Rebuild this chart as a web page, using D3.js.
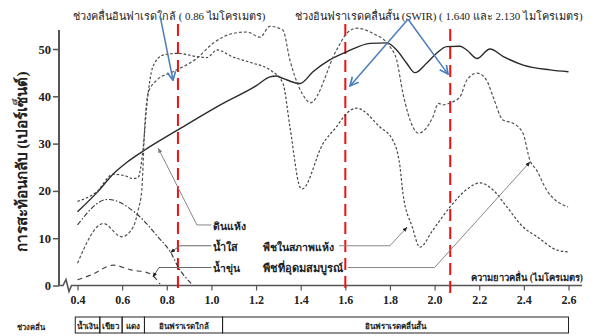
<!DOCTYPE html>
<html>
<head>
<meta charset="utf-8">
<script src="https://cdn.jsdelivr.net/npm/d3@7"></script>
<style>
  body { margin: 0; background: #fff; }
  svg { display: block; }
  text { font-family: "Liberation Serif", "DejaVu Serif", serif; fill: #222; }
  .tick text { font-weight: bold; }
</style>
</head>
<body>
<svg width="597" height="336"></svg>
<script>
// ---- data (wavelength in micrometres, reflectance in %) ----
var xTicks = [0.4, 0.6, 0.8, 1.0, 1.2, 1.4, 1.6, 1.8, 2.0, 2.2, 2.4, 2.6];
var yTicks = [0, 10, 20, 30, 40, 50];

var drySoil = [[0.40,15.6],[0.49,19.8],[0.56,23.6],[0.62,26.0],[0.70,28.6],[0.85,32.9],[1.04,38.2],
  [1.20,42.2],[1.262,44.1],[1.29,44.3],[1.32,43.8],[1.397,42.7],[1.455,45.2],[1.53,47.7],[1.606,49.4],
  [1.711,51.2],[1.786,51.3],[1.83,49.8],[1.875,47],[1.912,45],[1.964,47],[2.009,49.1],[2.054,50.5],
  [2.114,50.6],[2.144,49.8],[2.19,48],[2.248,50],[2.308,48.4],[2.397,46.6],[2.517,45.6],[2.60,45.2]];

var dryVeg = [[0.40,17.8],[0.486,19.8],[0.559,23.5],[0.613,23.2],[0.649,22.6],[0.671,22.8],[0.694,29],
  [0.71,37.8],[0.738,46.3],[0.783,48.7],[0.85,49.1],[0.935,48.4],[0.98,48.2],[1.025,49.8],[1.097,48.3],
  [1.186,47],[1.262,45.6],[1.32,42.8],[1.352,33.5],[1.397,20.8],[1.406,20.4],[1.50,30],[1.561,33.6],
  [1.606,36.4],[1.651,37.5],[1.755,33.5],[1.813,30.7],[1.845,25.1],[1.858,19.5],[1.90,12.4],[1.934,8.1],
  [1.992,11.7],[2.069,16.6],[2.158,20.8],[2.203,21.7],[2.262,20.2],[2.324,16.6],[2.396,12.4],[2.459,10.3],
  [2.548,7.5],[2.598,7.1]];

var healthyVeg = [[0.40,4.7],[0.516,13.1],[0.598,10.3],[0.65,12.4],[0.672,16],[0.688,20.2],[0.702,34.3],
  [0.716,40.6],[0.755,43.4],[0.828,45.2],[0.934,48],[1.007,51.2],[1.097,53.3],[1.159,53.6],[1.218,52.5],
  [1.262,54.8],[1.32,54],[1.352,47.6],[1.427,39.2],[1.442,38.6],[1.561,49.8],[1.606,53.3],[1.651,54.4],
  [1.724,53.3],[1.80,50.5],[1.83,47.7],[1.858,40.7],[1.903,33.5],[1.927,32.2],[1.993,35.7],[2.017,38.5],
  [2.038,38.2],[2.069,38.6],[2.114,39.9],[2.144,43.4],[2.19,44.9],[2.233,43.4],[2.262,39.9],[2.306,35],
  [2.351,34.3],[2.396,32.2],[2.427,26.5],[2.457,24.4],[2.502,20.2],[2.598,16.6]];

var clearWater = [[0.40,12.8],[0.535,18.2],[0.671,14.9],[0.76,10.3],[0.82,6.8],[0.85,4],[0.91,0.4]];
var turbidWater = [[0.40,1.2],[0.46,2.2],[0.56,4.3],[0.64,3.3],[0.72,2.6],[0.75,1.5],[0.77,0.3]];

var redLines = [0.85, 1.60, 2.07];

var bandNames = ["น้ำเงิน", "เขียว", "แดง", "อินฟราเรดใกล้", "อินฟราเรดคลื่นสั้น"];
var bandEdges = [0.39, 0.5, 0.6, 0.7, 1.05, 2.6];

// ---- layout ----
var svg = d3.select("svg");
var x = d3.scaleLinear().domain([0.4, 2.6]).range([77.5, 568.5]);
var y = d3.scaleLinear().domain([0, 54]).range([285.5, 30.1]);

// shrink/grow a text so it spans the given pixel width
function fit(sel, w) {
  sel.each(function() {
    var len = this.getComputedTextLength();
    var fs = parseFloat(d3.select(this).style("font-size"));
    if (len > 0) d3.select(this).style("font-size", (fs * w / len) + "px");
  });
}

var defs = svg.append("defs");
defs.append("marker").attr("id", "blueHead")
  .attr("viewBox", "0 0 10 10").attr("refX", 9).attr("refY", 5)
  .attr("markerWidth", 7).attr("markerHeight", 7).attr("orient", "auto")
  .append("path").attr("d", "M1,1 L9,5 L1,9").attr("fill", "none")
  .attr("stroke", "#4a7ebb").attr("stroke-width", 1.6);
defs.append("marker").attr("id", "darkHead")
  .attr("viewBox", "0 0 10 10").attr("refX", 9).attr("refY", 5)
  .attr("markerWidth", 5).attr("markerHeight", 5).attr("orient", "auto")
  .append("path").attr("d", "M0,1 L10,5 L0,9 Z").attr("fill", "#222");
defs.append("marker").attr("id", "grayHead")
  .attr("viewBox", "0 0 10 10").attr("refX", 9).attr("refY", 5)
  .attr("markerWidth", 5).attr("markerHeight", 5).attr("orient", "auto")
  .append("path").attr("d", "M0,1 L10,5 L0,9 Z").attr("fill", "#777");

// y axis
var yAxis = svg.append("g").attr("transform", "translate(59,0)")
  .call(d3.axisLeft(y).tickValues(yTicks).tickSize(6).tickPadding(2));
yAxis.attr("font-family", "Liberation Serif, serif");
yAxis.select(".domain").remove();
yAxis.selectAll(".tick line").attr("stroke", "#555").attr("stroke-width", 1.5);
yAxis.selectAll(".tick text").style("font-size", "12.5px").style("font-family", "Liberation Serif, serif").attr("fill", "#222");
svg.append("line").attr("x1", 59).attr("x2", 59).attr("y1", y(54)).attr("y2", y(0))
  .attr("stroke", "#555").attr("stroke-width", 2);

// x axis with break mark
var xAxis = svg.append("g").attr("transform", "translate(0," + y(0) + ")")
  .call(d3.axisBottom(x).tickValues(xTicks).tickSize(5).tickPadding(5).tickFormat(d3.format(".1f")));
xAxis.attr("font-family", "Liberation Serif, serif");
xAxis.select(".domain").remove();
xAxis.selectAll(".tick line").attr("stroke", "#555").attr("stroke-width", 1.2);
xAxis.selectAll(".tick text").style("font-size", "12px").style("font-family", "Liberation Serif, serif").attr("fill", "#222");
var y0 = y(0);
svg.append("path")
  .attr("d", "M59," + y0 + " L63," + y0 + " L66," + (y0 - 6) + " L69," + (y0 + 6) + " L71.5," + y0 + " L582," + y0)
  .attr("fill", "none").attr("stroke", "#555").attr("stroke-width", 1.6);

// axis titles
svg.append("text").attr("transform", "translate(27,162) rotate(-90)")
  .attr("text-anchor", "middle").style("font-size", "15px").style("font-weight", "bold")
  .text("การสะท้อนกลับ (เปอร์เซ็นต์)").call(fit, 183);
svg.append("text").attr("x", 583).attr("y", 281).attr("text-anchor", "end")
  .style("font-size", "11px").style("font-weight", "bold")
  .text("ความยาวคลื่น (ไมโครเมตร)").call(fit, 113);

// red reference lines
svg.selectAll(".redline").data(redLines).enter().append("line")
  .attr("class", "redline")
  .attr("x1", function(d) { return x(d); }).attr("x2", function(d) { return x(d); })
  .attr("y1", function(d, i) { return i == 2 ? 29 : 24; }).attr("y2", 294)
  .attr("stroke", "#f01010").attr("stroke-width", 2).attr("stroke-dasharray", "12,6");

// spectral curves
var line = d3.line().x(function(d) { return x(d[0]); }).y(function(d) { return y(d[1]); })
  .curve(d3.curveMonotoneX);
var curves = [
  { data: drySoil, dash: null, color: "#2a2a2a", w: 1.4 },
  { data: dryVeg, dash: "2.5,2", color: "#444", w: 1.2 },
  { data: healthyVeg, dash: "3,2", color: "#555", w: 1.2 },
  { data: clearWater, dash: "5,2,1.5,2", color: "#333", w: 1.1 },
  { data: turbidWater, dash: "5,4", color: "#444", w: 1.2 }
];
svg.selectAll(".curve").data(curves).enter().append("path")
  .attr("class", "curve")
  .attr("d", function(d) { return line(d.data); })
  .attr("fill", "none")
  .attr("stroke", function(d) { return d.color; })
  .attr("stroke-width", function(d) { return d.w; })
  .attr("stroke-dasharray", function(d) { return d.dash; });

// curve labels with leader lines (data coordinates)
var labels = [
  { text: "ดินแห้ง", lx: 1.008, ly: 11.8, w: 32, pts: [[1.0, 12.8], [0.935, 12.8], [0.762, 29.0]], head: "grayHead", color: "#888" },
  { text: "น้ำใส", lx: 1.008, ly: 7.4, w: 25, pts: [[1.0, 8.4], [0.859, 8.4], [0.817, 7.0]], head: "darkHead", color: "#666" },
  { text: "น้ำขุ่น", lx: 1.008, ly: 2.9, w: 27, pts: [[1.0, 3.8], [0.765, 3.8], [0.738, 1.8]], head: "darkHead", color: "#666" },
  { text: "พืชในสภาพแห้ง", lx: 1.232, ly: 7.4, w: 72, pts: [[1.572, 8.4], [1.80, 8.4], [1.876, 12.3]], head: "darkHead", color: "#888" },
  { text: "พืชที่อุดมสมบูรณ์", lx: 1.232, ly: 2.9, w: 82, pts: [[1.612, 3.8], [2.0, 3.8], [2.427, 26.1]], head: "darkHead", color: "#888" }
];
var leader = d3.line().x(function(d) { return x(d[0]); }).y(function(d) { return y(d[1]); });
svg.selectAll(".leader").data(labels).enter().append("path")
  .attr("class", "leader")
  .attr("d", function(d) { return leader(d.pts); })
  .attr("fill", "none").attr("stroke", function(d) { return d.color; }).attr("stroke-width", 1)
  .attr("marker-end", function(d) { return "url(#" + d.head + ")"; });
svg.selectAll(".lbl").data(labels).enter().append("text")
  .attr("class", "lbl")
  .attr("x", function(d) { return x(d.lx); }).attr("y", function(d) { return y(d.ly); })
  .style("font-size", "13px").style("font-weight", "bold")
  .text(function(d) { return d.text; })
  .each(function(d) { d3.select(this).call(fit, d.w); });

// top annotations and blue arrows
svg.append("text").attr("x", 73).attr("y", 20).style("font-size", "14px")
  .text("ช่วงคลื่นอินฟาเรดใกล้ ( 0.86 ไมโครเมตร)").call(fit, 195);
svg.append("text").attr("x", 295).attr("y", 20).style("font-size", "14px")
  .text("ช่วงอินฟราเรดคลื่นสั้น (SWIR) ( 1.640 และ 2.130 ไมโครเมตร)").call(fit, 292);
var blueArrows = [[[0.77, 57.0], [0.828, 43.4]], [[1.881, 56.3], [1.621, 42.2]], [[1.881, 56.3], [2.06, 44.7]]];
svg.selectAll(".blue").data(blueArrows).enter().append("path")
  .attr("class", "blue")
  .attr("d", function(d) { return leader(d); })
  .attr("fill", "none").attr("stroke", "#4a7ebb").attr("stroke-width", 1.5)
  .attr("marker-end", "url(#blueHead)");

// band strip at the bottom
svg.append("text").attr("x", 17).attr("y", 330).style("font-size", "9px").style("font-weight", "bold")
  .text("ช่วงคลื่น").call(fit, 28);
var band = svg.append("g");
band.selectAll("rect").data(bandNames).enter().append("rect")
  .attr("x", function(d, i) { return x(bandEdges[i]); })
  .attr("width", function(d, i) { return x(bandEdges[i + 1]) - x(bandEdges[i]); })
  .attr("y", 317).attr("height", 16)
  .attr("fill", "none").attr("stroke", "#222").attr("stroke-width", 1);
band.selectAll("text").data(bandNames).enter().append("text")
  .attr("x", function(d, i) { return (x(bandEdges[i]) + x(bandEdges[i + 1])) / 2; })
  .attr("y", 329).attr("text-anchor", "middle")
  .style("font-size", "8px").style("font-weight", "bold")
  .text(function(d) { return d; })
  .each(function(d, i) {
    var cell = x(bandEdges[i + 1]) - x(bandEdges[i]) - 3;
    if (this.getComputedTextLength() > cell) d3.select(this).call(fit, cell);
  });
</script>
</body>
</html>
